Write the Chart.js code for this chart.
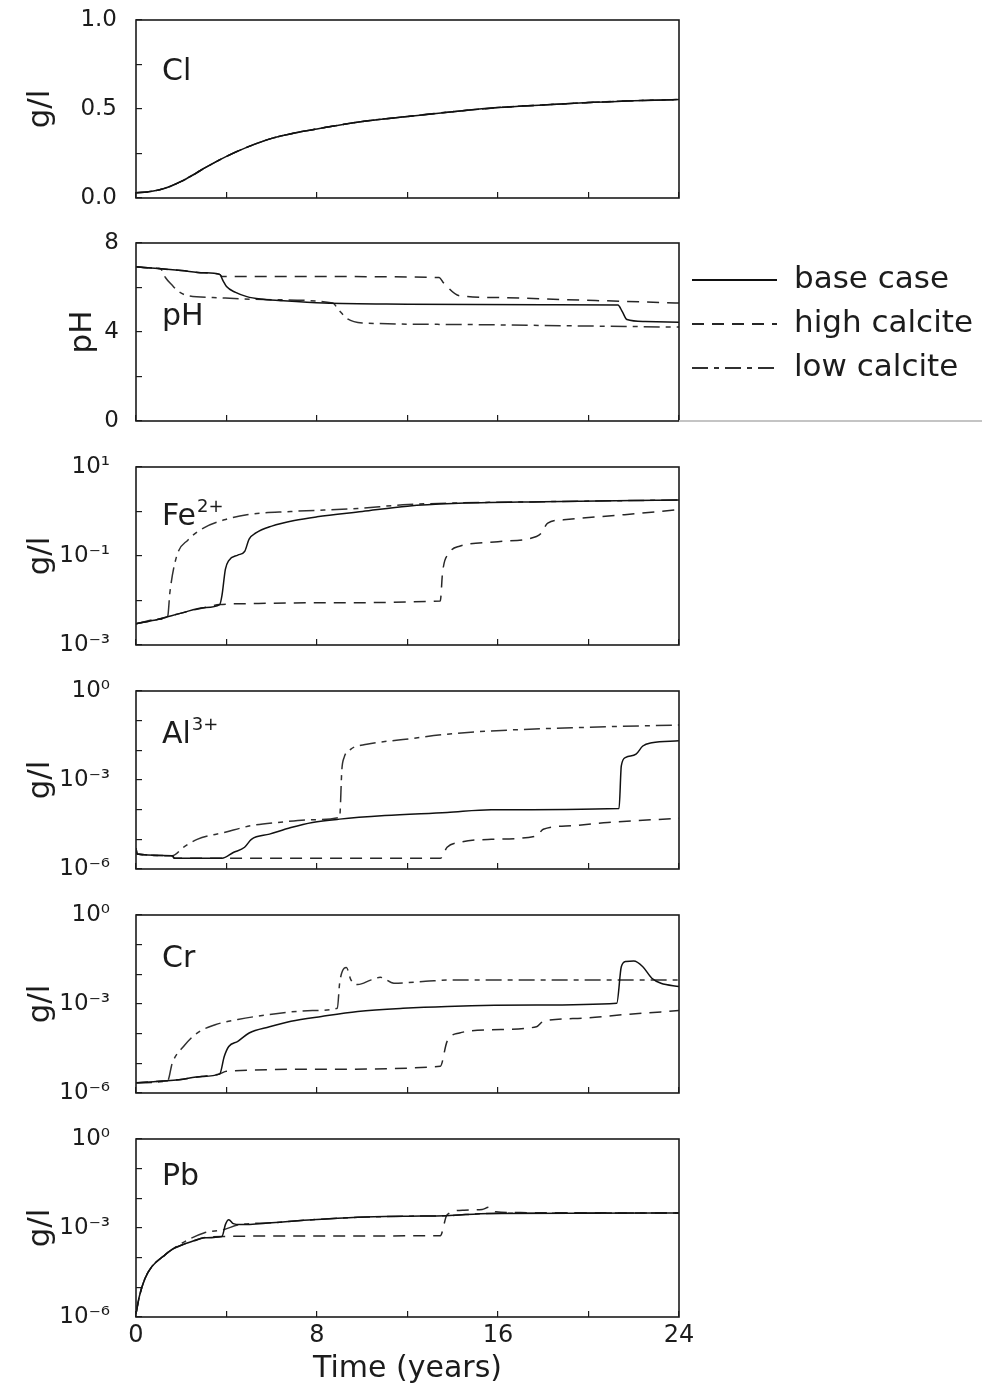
<!DOCTYPE html>
<html>
<head>
<meta charset="utf-8">
<script src="https://cdn.jsdelivr.net/npm/chart.js@4.4.0/dist/chart.umd.min.js"></script>
<style>
  html, body { margin: 0; padding: 0; background: #ffffff; }
  #wrap { position: relative; width: 982px; height: 1397px; overflow: hidden; background: #fff; }
  .panel { position: absolute; left: 0; width: 982px; }
  .panel canvas { display: block; }
</style>
</head>
<body>
<div id="wrap"></div>
<script>
// ---------------- DATA ----------------
// Time axis (years)
const timeTickValues = [0, 4, 8, 12, 16, 20, 24];
const timeTickLabels = ['0', '', '8', '', '16', '', '24'];

// Y tick values / labels
const clTickValues = [0, 0.25, 0.5, 0.75, 1];
const clTickLabels = ['0.0', '', '0.5', '', '1.0'];
const phTickValues = [0, 2, 4, 6, 8];
const phTickLabels = ['0', '', '4', '', '8'];
const feTickValues = [1e-3, 1e-2, 1e-1, 1, 10];
const feTickLabels = ['10\u207B\u00B3', '', '10\u207B\u00B9', '', '10\u00B9'];
const traceTickValues = [1e-6, 1e-5, 1e-4, 1e-3, 1e-2, 1e-1, 1];
const traceTickLabels = ['10\u207B\u2076', '', '', '10\u207B\u00B3', '', '', '10\u2070'];

// Cl (g/l) - all three cases coincide
const clTime = [0, 0.5, 1, 1.5, 2, 2.5, 3, 4, 5, 6, 7, 8, 10, 12, 14, 16, 18, 20, 22, 24];
const clBase = [0.03, 0.034, 0.045, 0.065, 0.093, 0.128, 0.166, 0.234, 0.29, 0.335, 0.365, 0.388, 0.43, 0.458, 0.485, 0.508, 0.523, 0.536, 0.547, 0.553];
const clHigh = [0.03, 0.034, 0.045, 0.065, 0.093, 0.128, 0.166, 0.234, 0.29, 0.335, 0.365, 0.388, 0.43, 0.458, 0.485, 0.508, 0.523, 0.536, 0.547, 0.553];
const clLow  = [0.03, 0.034, 0.045, 0.065, 0.093, 0.128, 0.166, 0.234, 0.29, 0.335, 0.365, 0.388, 0.43, 0.458, 0.485, 0.508, 0.523, 0.536, 0.547, 0.553];

// pH
const phBaseT = [0, 1, 2, 3, 3.7, 3.85, 4.0, 4.4, 4.9, 5.5, 6.4, 8.3, 12, 18, 21.3, 21.5, 21.7, 22.5, 24];
const phBaseV = [6.93, 6.85, 6.76, 6.66, 6.59, 6.3, 6.04, 5.78, 5.59, 5.48, 5.41, 5.3, 5.25, 5.22, 5.21, 4.9, 4.56, 4.47, 4.44];
const phHighT = [0, 1, 2, 3, 3.7, 3.8, 8, 13.4, 13.6, 14.3, 16, 19, 21.5, 24];
const phHighV = [6.93, 6.85, 6.76, 6.66, 6.59, 6.49, 6.49, 6.45, 6.2, 5.63, 5.55, 5.45, 5.38, 5.3];
const phLowT = [0, 1, 1.1, 1.3, 1.6, 1.9, 2.3, 3.4, 6, 8.7, 8.95, 9.35, 10, 14, 19, 24];
const phLowV = [6.93, 6.85, 6.83, 6.45, 6.1, 5.81, 5.63, 5.55, 5.45, 5.3, 5.0, 4.59, 4.41, 4.34, 4.28, 4.22];

// Fe2+ (g/l)
const feBaseT = [0, 1, 2, 3, 3.7, 3.8, 3.95, 4.1, 4.5, 4.8, 5.0, 5.3, 6, 7, 8, 10, 12, 14, 18, 24];
const feBaseV = [3.0e-3, 3.8e-3, 5.2e-3, 6.9e-3, 8.1e-3, 1.3e-2, 5.0e-2, 7.9e-2, 0.105, 0.126, 0.24, 0.33, 0.47, 0.63, 0.76, 1.0, 1.32, 1.51, 1.66, 1.82];
const feHighT = [0, 1, 2, 3, 3.7, 5, 8, 13.45, 13.55, 13.85, 14.3, 16, 17.7, 17.9, 18.2, 18.9, 21.6, 24];
const feHighV = [3.0e-3, 3.8e-3, 5.2e-3, 6.9e-3, 8.1e-3, 8.5e-3, 8.9e-3, 9.8e-3, 4.3e-2, 0.117, 0.166, 0.21, 0.275, 0.32, 0.55, 0.65, 0.85, 1.1];
const feLowT = [0, 1, 1.4, 1.5, 1.8, 2.3, 3.0, 3.9, 4.9, 6.85, 9.8, 11.8, 14, 18, 24];
const feLowV = [3.0e-3, 3.8e-3, 4.4e-3, 1.55e-2, 0.1, 0.23, 0.43, 0.65, 0.85, 1.0, 1.17, 1.41, 1.55, 1.66, 1.82];

// Al3+ (g/l)
const alBaseT = [0, 0.05, 1.6, 1.7, 3.8, 4.3, 4.8, 5.1, 5.9, 6.85, 7.8, 9, 11, 13.75, 15.7, 21.35, 21.45, 21.65, 22.1, 22.4, 22.8, 24];
const alBaseV = [5.0e-6, 3.2e-6, 2.8e-6, 2.3e-6, 2.3e-6, 3.6e-6, 5.4e-6, 1.0e-5, 1.5e-5, 2.5e-5, 3.7e-5, 4.8e-5, 6.3e-5, 8.1e-5, 1.0e-4, 1.1e-4, 3.0e-3, 5.8e-3, 7.4e-3, 1.4e-2, 1.8e-2, 2.1e-2];
const alHighT = [0, 0.05, 1.6, 1.7, 3.8, 13.45, 13.75, 14.3, 15.7, 17.7, 18.0, 19.3, 20.85, 24];
const alHighV = [5.0e-6, 3.2e-6, 2.8e-6, 2.3e-6, 2.3e-6, 2.3e-6, 5.4e-6, 7.9e-6, 1.0e-5, 1.3e-5, 2.2e-5, 2.9e-5, 3.7e-5, 5.1e-5];
const alLowT = [0, 0.05, 1.6, 2.1, 2.7, 3.9, 5.1, 6.25, 7.8, 9.0, 9.1, 9.2, 9.5, 10.2, 11.8, 13.75, 15.7, 19.7, 24];
const alLowV = [5.0e-6, 3.2e-6, 2.8e-6, 5.4e-6, 1.0e-5, 1.7e-5, 2.9e-5, 3.7e-5, 4.6e-5, 5.5e-5, 2.3e-3, 5.8e-3, 1.1e-2, 1.6e-2, 2.3e-2, 3.5e-2, 4.5e-2, 5.9e-2, 7.1e-2];

// Cr (g/l)
const crBaseT = [0, 1.9, 2.9, 3.7, 3.9, 4.1, 4.5, 5.0, 5.9, 6.85, 8.2, 9.8, 11.8, 13.75, 17.7, 21.25, 21.45, 21.65, 22.0, 22.4, 22.8, 23.2, 24];
const crBaseV = [2.2e-6, 2.8e-6, 3.6e-6, 4.4e-6, 1.7e-5, 3.7e-5, 5.5e-5, 1.05e-4, 1.7e-4, 2.6e-4, 3.8e-4, 5.6e-4, 7.2e-4, 8.3e-4, 9.3e-4, 1.07e-3, 1.8e-2, 2.7e-2, 2.8e-2, 1.8e-2, 7.4e-3, 5.0e-3, 3.9e-3];
const crHighT = [0, 1.9, 2.9, 3.7, 4, 8, 13.45, 13.75, 14.3, 15.7, 17.7, 18.0, 19.7, 21.6, 24];
const crHighV = [2.2e-6, 2.8e-6, 3.6e-6, 4.4e-6, 5.4e-6, 6.3e-6, 7.9e-6, 5.5e-5, 1.05e-4, 1.35e-4, 1.7e-4, 2.6e-4, 3.3e-4, 4.4e-4, 6.0e-4];
const crLowT = [0, 1.4, 1.6, 2.1, 2.7, 3.5, 4.5, 5.9, 7.8, 8.9, 9.0, 9.2, 9.3, 9.5, 9.8, 10.4, 10.8, 11.4, 12.8, 14, 24];
const crLowV = [2.2e-6, 2.6e-6, 1.0e-5, 3.7e-5, 1.05e-4, 2.0e-4, 3.0e-4, 4.4e-4, 6.0e-4, 7.2e-4, 5.0e-3, 1.6e-2, 1.7e-2, 6.5e-3, 4.5e-3, 6.5e-3, 7.9e-3, 5.0e-3, 5.8e-3, 6.5e-3, 6.5e-3];

// Pb (g/l)
const pbBaseT = [0, 0.15, 0.4, 0.7, 1.2, 1.6, 2.1, 2.6, 3.0, 3.8, 3.95, 4.1, 4.3, 4.6, 6, 7.8, 9.8, 12, 13.7, 15.7, 24];
const pbBaseV = [1.3e-6, 5.0e-6, 2.0e-5, 5.0e-5, 1.1e-4, 1.9e-4, 2.8e-4, 3.8e-4, 4.7e-4, 5.2e-4, 1.3e-3, 1.9e-3, 1.4e-3, 1.3e-3, 1.5e-3, 1.9e-3, 2.3e-3, 2.5e-3, 2.6e-3, 3.1e-3, 3.2e-3];
const pbHighT = [0, 0.15, 0.4, 0.7, 1.2, 1.6, 2.1, 2.6, 3.0, 3.8, 8, 13.45, 13.75, 14.5, 15.3, 15.6, 15.9, 17, 24];
const pbHighV = [1.3e-6, 5.0e-6, 2.0e-5, 5.0e-5, 1.1e-4, 1.9e-4, 2.8e-4, 3.8e-4, 4.7e-4, 5.2e-4, 5.4e-4, 5.5e-4, 2.8e-3, 4.0e-3, 4.2e-3, 5.0e-3, 3.5e-3, 3.3e-3, 3.2e-3];
const pbLowT = [0, 0.15, 0.4, 0.7, 1.2, 1.6, 2.3, 3.0, 3.9, 4.5, 6, 7.8, 9.8, 12, 13.7, 15.7, 24];
const pbLowV = [1.3e-6, 5.0e-6, 2.0e-5, 5.0e-5, 1.1e-4, 1.9e-4, 4.0e-4, 6.8e-4, 8.9e-4, 1.26e-3, 1.5e-3, 1.9e-3, 2.3e-3, 2.5e-3, 2.6e-3, 3.1e-3, 3.2e-3];

const seriesNames = ['base case', 'high calcite', 'low calcite'];

// ---------------- STYLE ----------------
const FONT = 'DejaVu Sans';
const INK = '#1c1c1c';
const lineStyles = [
  { borderColor: '#111111', borderDash: [] },
  { borderColor: '#262626', borderDash: [12, 8] },
  { borderColor: '#303030', borderDash: [16, 6, 5, 6] }
];

function pts(t, v) { return t.map((x, i) => ({ x: x, y: v[i] })); }

const framePlugin = {
  id: 'frame',
  afterDatasetsDraw(chart) {
    const { ctx, chartArea: a } = chart;
    ctx.save();
    ctx.strokeStyle = INK;
    ctx.lineWidth = 1.6;
    ctx.strokeRect(a.left, a.top, a.right - a.left, a.bottom - a.top);
    ctx.restore();
  }
};

const panelLabelPlugin = {
  id: 'panelLabel',
  afterDatasetsDraw(chart, args, opts) {
    if (!opts || !opts.text) return;
    const { ctx, chartArea: a } = chart;
    ctx.save();
    ctx.fillStyle = INK;
    ctx.textAlign = 'left';
    ctx.textBaseline = 'alphabetic';
    ctx.font = '30px "' + FONT + '"';
    const x = a.left + 26, y = a.top + opts.dy;
    ctx.fillText(opts.text, x, y);
    if (opts.sup) {
      const w = ctx.measureText(opts.text).width;
      ctx.font = '18px "' + FONT + '"';
      ctx.fillText(opts.sup, x + w + 1, y - 13);
    }
    ctx.restore();
  }
};

const sideLegendPlugin = {
  id: 'sideLegend',
  afterDraw(chart, args, opts) {
    if (!opts || !opts.display) return;
    const { ctx, chartArea: a } = chart;
    ctx.save();
    // light rule continuing the bottom axis to the page edge
    ctx.strokeStyle = '#c4c4c4';
    ctx.lineWidth = 2;
    ctx.beginPath();
    ctx.moveTo(a.right, a.bottom);
    ctx.lineTo(chart.width, a.bottom);
    ctx.stroke();
    chart.data.datasets.forEach((ds, i) => {
      const y = a.top + opts.rowTop + i * opts.rowGap;
      ctx.strokeStyle = ds.borderColor;
      ctx.lineWidth = 1.8;
      ctx.setLineDash(ds.borderDash || []);
      ctx.beginPath();
      ctx.moveTo(a.right + 13, y);
      ctx.lineTo(a.right + 98, y);
      ctx.stroke();
      ctx.setLineDash([]);
      ctx.fillStyle = INK;
      ctx.font = '31px "' + FONT + '"';
      ctx.textAlign = 'left';
      ctx.textBaseline = 'middle';
      ctx.fillText(ds.label, a.right + 115, y);
    });
    ctx.restore();
  }
};

// ---------------- PANELS ----------------
const PAD_TOP = 20, PLOT_H = 178, PLOT_RIGHT = 679, PLOT_LEFT = 136, PAGE_W = 982;

const panels = [
  { top: 20,   log: false, min: 0, max: 1, tv: clTickValues, tl: clTickLabels, tickPad: 25,
    title: 'g/l', titlePad: 22, label: 'Cl', dy: 60,
    data: [[clTime, clBase], [clTime, clHigh], [clTime, clLow]] },
  { top: 243,  log: false, min: 0, max: 8, tv: phTickValues, tl: phTickLabels, tickPad: 23,
    title: 'pH', titlePad: 64, label: 'pH', dy: 82, legend: true,
    data: [[phBaseT, phBaseV], [phHighT, phHighV], [phLowT, phLowV]] },
  { top: 467,  log: true, min: 1e-3, max: 10, tv: feTickValues, tl: feTickLabels, tickPad: 32,
    title: 'g/l', titlePad: 22, label: 'Fe', sup: '2+', dy: 58,
    data: [[feBaseT, feBaseV], [feHighT, feHighV], [feLowT, feLowV]] },
  { top: 691,  log: true, min: 1e-6, max: 1, tv: traceTickValues, tl: traceTickLabels, tickPad: 32,
    title: 'g/l', titlePad: 22, label: 'Al', sup: '3+', dy: 52,
    data: [[alBaseT, alBaseV], [alHighT, alHighV], [alLowT, alLowV]] },
  { top: 915,  log: true, min: 1e-6, max: 1, tv: traceTickValues, tl: traceTickLabels, tickPad: 32,
    title: 'g/l', titlePad: 22, label: 'Cr', dy: 52,
    data: [[crBaseT, crBaseV], [crHighT, crHighV], [crLowT, crLowV]] },
  { top: 1139, log: true, min: 1e-6, max: 1, tv: traceTickValues, tl: traceTickLabels, tickPad: 32,
    title: 'g/l', titlePad: 22, label: 'Pb', dy: 46, bottom: true,
    data: [[pbBaseT, pbBaseV], [pbHighT, pbHighV], [pbLowT, pbLowV]] }
];

const wrap = document.getElementById('wrap');

function zeroPadding(s) {
  s.paddingTop = 0; s.paddingBottom = 0; s.paddingLeft = 0; s.paddingRight = 0;
}

panels.forEach(p => {
  const H = p.bottom ? (1397 - (p.top - PAD_TOP)) : 223;
  const div = document.createElement('div');
  div.className = 'panel';
  div.style.top = (p.top - PAD_TOP) + 'px';
  div.style.height = H + 'px';
  const canvas = document.createElement('canvas');
  canvas.width = PAGE_W;
  canvas.height = H;
  canvas.style.width = PAGE_W + 'px';
  canvas.style.height = H + 'px';
  div.appendChild(canvas);
  wrap.appendChild(div);

  const datasets = p.data.map((d, i) => ({
    label: seriesNames[i],
    data: pts(d[0], d[1]),
    borderColor: lineStyles[i].borderColor,
    borderDash: lineStyles[i].borderDash,
    borderWidth: 1.5,
    pointRadius: 0,
    fill: false,
    cubicInterpolationMode: 'monotone'
  }));

  new Chart(canvas, {
    type: 'line',
    data: { datasets },
    options: {
      responsive: false,
      animation: false,
      events: [],
      layout: { padding: { top: PAD_TOP, left: 0, right: PAGE_W - PLOT_RIGHT, bottom: 0 } },
      plugins: {
        legend: { display: false },
        tooltip: { enabled: false },
        panelLabel: { text: p.label, sup: p.sup, dy: p.dy },
        sideLegend: { display: !!p.legend, rowTop: 37, rowGap: 44 }
      },
      scales: {
        x: {
          type: 'linear',
          min: 0, max: 24,
          afterBuildTicks: s => { s.ticks = timeTickValues.map(v => ({ value: v })); },
          afterFit: s => { s.height = H - PAD_TOP - PLOT_H; zeroPadding(s); },
          ticks: {
            autoSkip: false, maxRotation: 0, padding: 10,
            color: INK, font: { family: FONT, size: 24 },
            callback: (v, i) => p.bottom ? timeTickLabels[i] : ''
          },
          grid: { drawOnChartArea: false, drawTicks: true, tickLength: -6, color: INK, lineWidth: 1.2 },
          border: { display: false },
          title: {
            display: !!p.bottom, text: 'Time (years)', color: INK,
            font: { family: FONT, size: 30 }, padding: { top: 0, bottom: 10 }
          }
        },
        y: {
          type: p.log ? 'logarithmic' : 'linear',
          min: p.min, max: p.max,
          afterBuildTicks: s => { s.ticks = p.tv.map(v => ({ value: v })); },
          afterFit: s => { s.width = PLOT_LEFT; zeroPadding(s); },
          ticks: {
            autoSkip: false, padding: p.tickPad,
            color: INK, font: { family: FONT, size: 23 },
            callback: (v, i) => p.tl[i]
          },
          grid: { drawOnChartArea: false, drawTicks: true, tickLength: -6, color: INK, lineWidth: 1.2 },
          border: { display: false },
          title: {
            display: true, text: p.title, color: INK,
            font: { family: FONT, size: 31 }, padding: { top: p.titlePad, bottom: 0 }
          }
        }
      }
    },
    plugins: [framePlugin, panelLabelPlugin, sideLegendPlugin]
  });
});
</script>
</body>
</html>
